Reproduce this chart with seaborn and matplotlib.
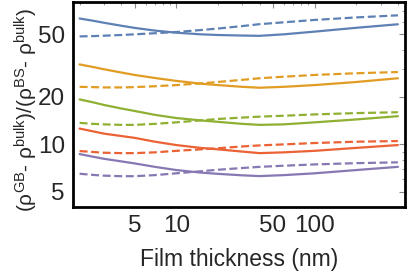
import numpy as np
import pandas as pd
import seaborn as sns
import matplotlib
matplotlib.use("Agg")
import matplotlib.pyplot as plt
from matplotlib.ticker import FixedLocator, NullFormatter, LogLocator, FixedFormatter

# ---- data ----
thickness = [2, 2.5, 3, 4, 5, 7, 10, 15, 20, 30, 40, 60, 100, 200, 400]

blue_solid    = [63.0, 61.0, 59.2, 56.7, 54.9, 52.8, 51.2, 50.0, 49.5, 49.1, 48.9, 50.0, 52.0, 55.0, 57.9]
blue_dashed   = [48.5, 48.7, 49.0, 49.5, 50.0, 50.8, 51.7, 53.2, 54.4, 56.4, 58.0, 59.6, 61.7, 64.0, 66.0]
orange_solid  = [32.2, 31.0, 30.0, 28.6, 27.6, 26.4, 25.3, 24.3, 23.8, 23.2, 22.9, 23.2, 23.8, 24.9, 26.3]
orange_dashed = [23.2, 23.1, 23.0, 23.0, 23.1, 23.4, 23.8, 24.4, 24.9, 25.7, 26.3, 26.9, 27.6, 28.3, 28.8]
green_solid   = [19.3, 18.5, 17.8, 16.9, 16.3, 15.4, 14.7, 14.2, 13.9, 13.5, 13.3, 13.4, 13.8, 14.4, 15.1]
green_dashed  = [13.7, 13.5, 13.4, 13.3, 13.3, 13.5, 13.8, 14.2, 14.5, 14.8, 15.0, 15.2, 15.5, 15.8, 16.0]
red_solid     = [12.6, 12.1, 11.7, 11.3, 11.0, 10.4, 9.9, 9.5, 9.3, 9.0, 8.8, 8.9, 9.1, 9.5, 9.9]
red_dashed    = [9.07, 8.95, 8.85, 8.8, 8.8, 8.9, 9.1, 9.3, 9.45, 9.7, 9.85, 10.0, 10.2, 10.4, 10.5]
purple_solid  = [8.68, 8.35, 8.1, 7.8, 7.57, 7.2, 6.87, 6.62, 6.5, 6.36, 6.29, 6.38, 6.55, 6.87, 7.2]
purple_dashed = [6.51, 6.4, 6.33, 6.28, 6.28, 6.38, 6.55, 6.75, 6.9, 7.08, 7.2, 7.32, 7.46, 7.6, 7.69]

series_names = ["blue", "orange", "green", "red", "purple"]
colors = {"blue": "#5E81B5", "orange": "#E19C24", "green": "#8FB032",
          "red": "#EB6235", "purple": "#8778B3"}
xticks = [5, 10, 50, 100]
xticklabels = ["5", "10", "50", "100"]
yticks = [5, 10, 20, 50]
yticklabels = ["5", "10", "20", "50"]

solid = {"blue": blue_solid, "orange": orange_solid, "green": green_solid,
         "red": red_solid, "purple": purple_solid}
dashed = {"blue": blue_dashed, "orange": orange_dashed, "green": green_dashed,
          "red": red_dashed, "purple": purple_dashed}

rows = []
for name in series_names:
    for kind, src in (("solid", solid), ("dashed", dashed)):
        for x, v in zip(thickness, src[name]):
            rows.append({"x": x, "y": v, "series": name, "kind": kind})
df = pd.DataFrame(rows)

sns.set_style("white")
plt.rcParams["font.family"] = ["Liberation Sans", "DejaVu Sans"]
plt.rcParams["mathtext.fontset"] = "custom"
plt.rcParams["mathtext.rm"] = "Liberation Sans"
plt.rcParams["mathtext.it"] = "Liberation Sans:italic"

fig = plt.figure(figsize=(4.07, 2.71), dpi=100)
ax = fig.add_axes([0.180, 0.236, 0.815, 0.756])

sns.lineplot(data=df, x="x", y="y", hue="series", style="kind",
             hue_order=series_names, palette=colors,
             style_order=["solid", "dashed"],
             dashes={"solid": "", "dashed": (3.6, 1.6)},
             linewidth=1.6, legend=False, ax=ax, estimator=None)

ax.set_xscale("log")
ax.set_yscale("log")
ax.set_xlim(1.8, 450)
ax.set_ylim(4.0, 80)

ax.xaxis.set_major_locator(FixedLocator(xticks))
ax.xaxis.set_major_formatter(FixedFormatter(xticklabels))
ax.xaxis.set_minor_locator(LogLocator(base=10, subs=np.arange(1, 10)))
ax.xaxis.set_minor_formatter(NullFormatter())
ax.yaxis.set_major_locator(FixedLocator(yticks))
ax.yaxis.set_major_formatter(FixedFormatter(yticklabels))
ax.yaxis.set_minor_locator(LogLocator(base=10, subs=np.arange(1, 10)))
ax.yaxis.set_minor_formatter(NullFormatter())

ax.tick_params(which="both", direction="in", top=True, right=True,
               labelsize=17.5, color="#888888")
ax.tick_params(which="major", length=4, width=0.8, pad=6)
ax.tick_params(which="minor", length=2, width=0.6)

for s in ax.spines.values():
    s.set_visible(True)
    s.set_color("black")
    s.set_linewidth(2.0)

ax.set_xlabel("Film thickness (nm)", fontsize=16.5, labelpad=8)
ax.set_ylabel(r"(ρ$^{\mathrm{GB}}$- ρ$^{\mathrm{bulk}}$)/(ρ$^{\mathrm{BS}}$- ρ$^{\mathrm{bulk}}$)",
              fontsize=15, labelpad=2)
ax.yaxis.set_label_coords(-0.10, 0.475)

fig.savefig("out.png", dpi=100)
